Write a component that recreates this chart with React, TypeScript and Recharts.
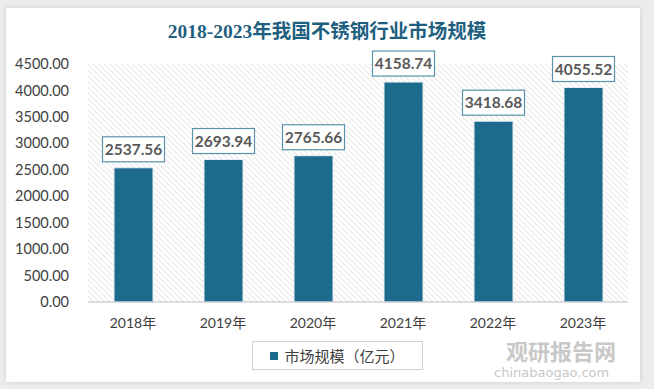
import { BarChart, Bar, XAxis, YAxis, CartesianGrid, LabelList } from "recharts";

const years = ["2018年", "2019年", "2020年", "2021年", "2022年", "2023年"];
const marketSize = [2537.56, 2693.94, 2765.66, 4158.74, 3418.68, 4055.52];
const yTicks = [0, 500, 1000, 1500, 2000, 2500, 3000, 3500, 4000, 4500];

const seriesName = "市场规模（亿元）";
const barColor = "#1c6a8c";

const data = years.map((year, i) => ({ year, value: marketSize[i] }));

const font = 'Lato, "Noto Sans CJK SC", sans-serif';

function ValueBox(props: any) {
	const { x, y, width, value } = props;
	const cx = x + width / 2;
	const w = 62;
	const h = 25;
	const top = y - 6 - h;
	return (
		<g>
			<rect x={cx - w / 2} y={top} width={w} height={h} fill="#fff" stroke="#5a92ac" strokeWidth={1.2} />
			<text
				x={cx}
				y={top + h / 2 + 5.5}
				textAnchor="middle"
				fontFamily={font}
				fontWeight="bold"
				fontSize={15.5}
				fill="#595959"
			>
				{Number(value).toFixed(2)}
			</text>
		</g>
	);
}

export default function App() {
	return (
		<div style={{ position: "absolute", left: 0, top: 0, width: 654, height: 389, background: "#ececec" }}>
			<div
				style={{
					position: "absolute",
					left: 6,
					top: 8,
					width: 634,
					height: 374,
					background: "#fff",
					boxShadow: "0 0 4px rgba(0,0,0,0.15)",
				}}
			/>
			<div
				style={{
					position: "absolute",
					left: 0,
					top: 20,
					width: 654,
					textAlign: "center",
					fontFamily: '"Liberation Serif", "Noto Sans CJK SC", serif',
					fontWeight: "bold",
					fontSize: 19.5,
					lineHeight: "24px",
					color: "#1f5f7f",
				}}
			>
				2018-2023年我国不锈钢行业市场规模
			</div>
			<div style={{ position: "absolute", left: 0, top: 0 }}>
				<BarChart width={654} height={389} data={data} margin={{ top: 64, right: 26, left: 0, bottom: 57 }}>
					<defs>
						<pattern id="hatch" width="4" height="4" patternUnits="userSpaceOnUse" patternTransform="rotate(-45)">
							<line x1="0" y1="0" x2="0" y2="4" stroke="#d6d6d6" strokeWidth="1.2" />
						</pattern>
					</defs>
					<CartesianGrid horizontal={false} vertical={false} fill="url(#hatch)" />
					<XAxis
						dataKey="year"
						height={30}
						tickLine={false}
						axisLine={{ stroke: "#bfbfbf" }}
						tick={{ fill: "#404040", fontSize: 14, fontFamily: font }}
						tickMargin={10}
					/>
					<YAxis
						width={88}
						domain={[0, 4500]}
						ticks={yTicks}
						interval={0}
						axisLine={false}
						tickLine={false}
						tickSize={0}
						tickMargin={19}
						tickFormatter={(v: number) => v.toFixed(2)}
						tick={{ fill: "#404040", fontSize: 14.5, fontFamily: font }}
					/>
					<Bar dataKey="value" name={seriesName} fill={barColor} stroke="#e8eef2" strokeWidth={1} barSize={39} isAnimationActive={false}>
						<LabelList dataKey="value" content={<ValueBox />} />
					</Bar>
				</BarChart>
			</div>
			<div
				style={{
					position: "absolute",
					left: 252,
					top: 341,
					width: 171,
					height: 29,
					border: "1px solid #d0d0d0",
					background: "#fff",
					boxSizing: "border-box",
					display: "flex",
					alignItems: "center",
					justifyContent: "center",
					fontFamily: font,
					fontSize: 15,
					color: "#404040",
				}}
			>
				<span style={{ width: 8, height: 8, background: barColor, display: "inline-block", marginRight: 6 }} />
				{seriesName}
			</div>
			<div
				style={{
					position: "absolute",
					left: 506,
					top: 339,
					fontFamily: '"Noto Sans CJK SC", sans-serif',
					fontWeight: "bold",
					fontSize: 22,
					lineHeight: "22px",
					color: "#c8c8c8",
				}}
			>
				观研报告网
			</div>
			<div
				style={{
					position: "absolute",
					left: 494,
					top: 366,
					fontFamily: '"DejaVu Sans", sans-serif',
					fontSize: 13,
					lineHeight: "14px",
					color: "#c8c8c8",
				}}
			>
				chinabaogao.com
			</div>
		</div>
	);
}
